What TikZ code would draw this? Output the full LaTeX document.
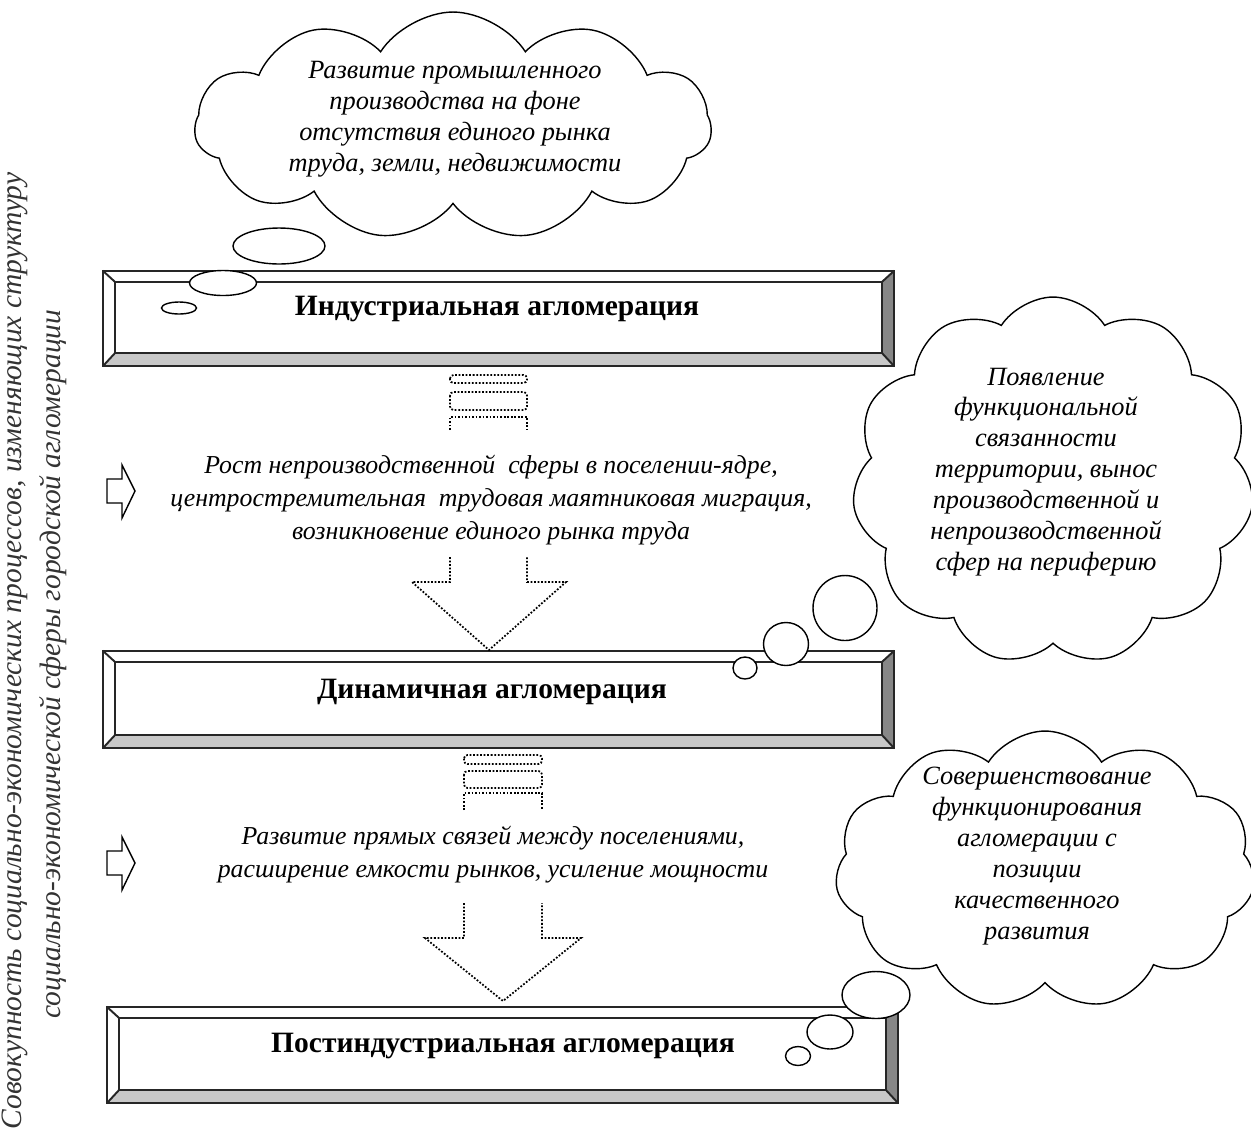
\documentclass[tikz,border=0pt]{standalone}
\usepackage{fontspec}
\setmainfont{Liberation Serif}
\usetikzlibrary{shapes.symbols,shapes.geometric}

\definecolor{stripgray}{RGB}{200,200,200}
\definecolor{sidegray}{RGB}{135,135,135}

% bevelled frame around an inner box node
\newcommand{\bevelframe}[1]{%
  \path ([shift={(-0.24cm,0.22cm)}]#1.north west) coordinate (#1-onw)
        ([shift={(0.24cm,0.22cm)}]#1.north east) coordinate (#1-one)
        ([shift={(0.24cm,-0.26cm)}]#1.south east) coordinate (#1-ose)
        ([shift={(-0.24cm,-0.26cm)}]#1.south west) coordinate (#1-osw);
  \fill[sidegray] (#1.north east) -- (#1-one) -- (#1-ose) -- (#1.south east) -- cycle;
  \fill[stripgray] (#1.south west) -- (#1.south east) -- (#1-ose) -- (#1-osw) -- cycle;
  \draw[frame] (#1-onw) rectangle (#1-ose);
  \draw[frame] (#1.north west) rectangle (#1.south east);
  \draw[frame] (#1-onw) -- (#1.north west) (#1-one) -- (#1.north east)
               (#1-ose) -- (#1.south east) (#1-osw) -- (#1.south west);
}

\begin{document}
\begin{tikzpicture}[x=0.02cm, y=-0.02cm,
    frame/.style={line width=1.1pt, draw=black!85},
    innerbox/.style={rectangle, inner sep=0pt, minimum width=15.34cm},
    boxtitle/.style={font=\fontsize{16.8}{19}\selectfont\bfseries},
    flowtext/.style={align=center, font=\fontsize{14.7}{18.7}\selectfont\itshape},
    cloudtext/.style={align=center, font=\fontsize{15}{17.6}\selectfont\itshape},
    sidetext/.style={rotate=90, font=\fontsize{16.8}{19}\selectfont\itshape, text=black!80},
    cloudy/.style={cloud, draw, fill=white, line width=0.8pt, cloud puffs=11, cloud puff arc=115, inner sep=0pt},
    bubble/.style={ellipse, draw, fill=white, line width=0.8pt, inner sep=0pt},
    dotline/.style={densely dotted, line width=1pt},
    hollow/.style={draw, line width=0.8pt, fill=white}
  ]
  \useasboundingbox (0,0) rectangle (1251,1137);

  % side caption
  \node[sidetext] (side1) at (15,651) {Совокупность социально-экономических процессов, изменяющих структуру};
  \node[sidetext] (side2) at (53,664) {социально-экономической сферы городской агломерации};

  % agglomeration stages
  \node[innerbox, minimum height=1.42cm] (ind) at (498.5,317.5) {};
  \bevelframe{ind}
  \node[boxtitle] (indtxt) at (497,309) {Индустриальная агломерация};

  \node[innerbox, minimum height=1.46cm] (dyn) at (498.5,698.5) {};
  \bevelframe{dyn}
  \node[boxtitle] (dyntxt) at (492,692) {Динамичная агломерация};

  \node[innerbox, minimum height=1.44cm] (post) at (502.5,1054) {};
  \bevelframe{post}
  \node[boxtitle] (posttxt) at (503,1046) {Постиндустриальная агломерация};

  % processes between stages
  \node[flowtext] (proc1) at (491,500) {Рост непроизводственной \ сферы в поселении-ядре,\\
    центростремительная \ трудовая маятниковая миграция,\\
    возникновение единого рынка труда};
  \node[flowtext] (proc2) at (493,855) {Развитие прямых связей между поселениями,\\
    расширение емкости рынков, усиление мощности};

  % dotted striped arrows
  \draw[dotline, rounded corners=2] (450,375) rectangle (527,383);
  \draw[dotline, rounded corners=2] (450,392) rectangle (527,410);
  \draw[dotline] (450,430) -- (450,417) -- (527,417) -- (527,430);
  \draw[dotline] (450,557) -- (450,582) -- (412,582) -- (489,650) -- (566,582) -- (527,582) -- (527,557);

  \draw[dotline, rounded corners=2] (464,755) rectangle (542,764);
  \draw[dotline, rounded corners=2] (464,771) rectangle (542,788);
  \draw[dotline] (464,810) -- (464,793) -- (542,793) -- (542,810);
  \draw[dotline] (464,903) -- (464,938) -- (425,938) -- (503,1001) -- (581,938) -- (542,938) -- (542,903);

  % hollow arrows on the left
  \draw[hollow] (107,479) -- (122,479) -- (122,465) -- (135,491) -- (122,518) -- (122,503) -- (107,503) -- cycle;
  \draw[hollow] (107,851) -- (122,851) -- (122,837) -- (135,863) -- (122,890) -- (122,875) -- (107,875) -- cycle;

  % thought clouds
  \node[cloudy, minimum width=10.34cm, minimum height=4.56cm] (cloudA) at (453,126) {};
  \node[cloudtext] (cloudAtxt) at (455,119) {Развитие промышленного\\производства на фоне\\отсутствия единого рынка\\труда, земли, недвижимости};
  \node[bubble, minimum width=1.84cm, minimum height=0.72cm] (bubA1) at (279,246) {};
  \node[bubble, minimum width=1.34cm, minimum height=0.5cm] (bubA2) at (223,283) {};
  \node[bubble, minimum width=0.7cm, minimum height=0.24cm] (bubA3) at (179,308) {};

  \node[cloudy, minimum width=8.04cm, minimum height=7.36cm] (cloudB) at (1053,481) {};
  \node[cloudtext] (cloudBtxt) at (1046,472) {Появление\\функциональной\\связанности\\территории, вынос\\производственной и\\непроизводственной\\сфер на периферию};
  \node[bubble, minimum width=1.28cm, minimum height=1.3cm] (bubB1) at (845,608) {};
  \node[bubble, minimum width=0.9cm, minimum height=0.86cm] (bubB2) at (786,644) {};
  \node[bubble, minimum width=0.48cm, minimum height=0.44cm] (bubB3) at (745,668) {};

  \node[cloudy, minimum width=8.4cm, minimum height=5.56cm] (cloudC) at (1045,870) {};
  \node[cloudtext] (cloudCtxt) at (1037,856) {Совершенствование\\функционирования\\агломерации с\\позиции\\качественного\\развития};
  \node[bubble, minimum width=1.36cm, minimum height=0.94cm] (bubC1) at (876,995) {};
  \node[bubble, minimum width=0.92cm, minimum height=0.68cm] (bubC2) at (830,1032) {};
  \node[bubble, minimum width=0.5cm, minimum height=0.38cm] (bubC3) at (798,1056) {};
\end{tikzpicture}
\end{document}
